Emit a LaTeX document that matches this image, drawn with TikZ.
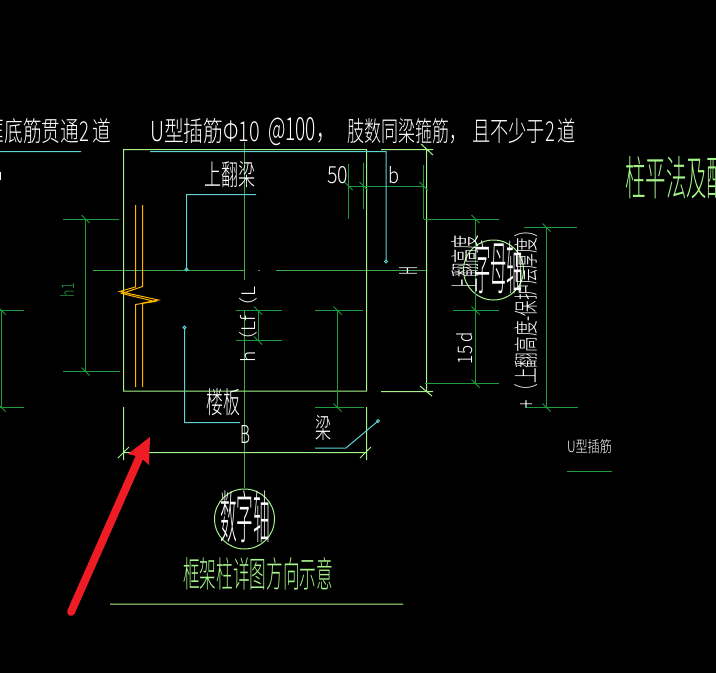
\documentclass[tikz,border=0pt]{standalone}
\usepackage{graphicx}
\usepackage{fontspec}
\setmainfont{Noto Sans CJK SC Light}
\definecolor{framegreen}{HTML}{A6F58A}
\definecolor{dimgreen}{HTML}{1E9A3C}
\definecolor{axisgreen}{HTML}{43A84C}
\definecolor{leadercyan}{HTML}{5FD2D2}
\definecolor{rebarorange}{HTML}{FFB400}
\definecolor{arrowred}{HTML}{EE1C25}
\newcommand{\fitbox}[3]{\resizebox{#1pt}{#2pt}{#3}}
\tikzset{
  label/.style={inner sep=0pt, text=white},
  greenlabel/.style={inner sep=0pt, text=framegreen},
  frameline/.style={draw=framegreen, line width=1pt},
  dimline/.style={draw=dimgreen, line width=1pt},
  axisline/.style={draw=axisgreen, line width=1pt},
  leader/.style={draw=leadercyan, line width=1pt},
  rebar/.style={draw=rebarorange, line width=1pt}
}
\begin{document}
\begin{tikzpicture}[x=1pt, y=-1pt]
  \useasboundingbox (0,0) rectangle (716,673);
  \fill[black] (0,0) rectangle (716,673);
  \coordinate (A) at (123.5,149.5);
  \coordinate (B) at (366.5,149.5);
  \coordinate (C) at (366.5,391);
  \coordinate (D) at (123.5,391);
  % axis lines
  \draw[axisline]
  (93,270) -- (244.5,270) (258,270) -- (260,270) (276,270) -- (426.5,270)
  (244.5,142) -- (244.5,280) (244.5,310) -- (244.5,488);
  % column outline
  \draw[frameline]
  (A) -- (B) -- (C) -- (D) -- cycle
  (381,149.5) -- (433,149.5)
  (426.5,149.5) -- (426.5,391.5)
  (381,391.5) -- (433,391.5)
  (420,386) -- (432,396)
  (421,144) -- (433,155)
  (123.5,407) -- (123.5,460)
  (366.5,407) -- (366.5,460)
  (123.5,452.5) -- (366.5,452.5)
  (118,458) -- (129,447)
  (360,458) -- (371,447)
  (110,604) -- (403,604);
  \draw[frameline] (244.5,519) circle[radius=30];
  \draw[frameline] (493.5,270) circle[radius=30];
  % dimension lines
  \draw[dimline]
  (63,219) -- (119,219) (63,371.5) -- (120,371.5) (85.5,219) -- (85.5,371.5)
  (0,310.5) -- (24,310.5) (0,407.5) -- (24,407.5) (1.5,310.5) -- (1.5,407.5)
  (348.5,164) -- (348.5,218.5) (363.5,163) -- (363.5,209) (423.5,165) -- (423.5,219)
  (348.5,186) -- (423.5,186)
  (423.5,219) -- (499,219) (453,310.5) -- (499,310.5) (425,383.5) -- (499,383.5)
  (475.5,219) -- (475.5,383.5)
  (524,227.5) -- (577,227.5) (525,407.5) -- (578,407.5) (546.5,227.5) -- (546.5,407.5)
  (236,310.5) -- (282,310.5) (236,340.5) -- (282,340.5) (258,310.5) -- (258,340.5)
  (315,310.5) -- (363,310.5) (315,407.5) -- (364,407.5) (337.5,310.5) -- (337.5,407.5)
  (567,471.5) -- (612,471.5);
  \foreach \p in {85.5/219, 85.5/371.5, 1.5/310.5, 1.5/407.5, 348.5/186, 363.5/186, 423.5/186,
    475.5/219, 475.5/310.5, 475.5/383.5, 546.5/227.5, 546.5/407.5,
    258/310.5, 258/340.5, 337.5/310.5, 337.5/407.5}
    \foreach \a/\b in \p \draw[dimline] (\a-4,\b-4) -- (\a+4,\b+4);
  % leaders
  \draw[leader]
  (0,151.5) -- (81,151.5)
  (150,151.5) -- (386,151.5) -- (386,261)
  (256,194.5) -- (186.5,194.5) -- (186.5,269.5)
  (184.5,327.5) -- (184.5,422.5) -- (240,422.5)
  (315,448) -- (346,448) -- (378,421);
  \foreach \p in {186.5/269.5, 386/261.5, 184.5/327.5, 378/421}
    \foreach \a/\b in \p \draw[leader, line width=.8pt] (\a,\b) circle[radius=1.5];
  % rebar
  \draw[rebar]
  (135.5,205) -- (135.5,287) -- (119.5,291.5) -- (158.5,300) -- (142.5,303) -- (142.5,387)
  (142.5,205) -- (142.5,286.5) -- (122,293.5) -- (155,301.5) -- (135.5,304.5) -- (135.5,387);
  \draw[white, line width=1pt] (0.5,172) -- (0.5,180);
  % labels
  \node[label, anchor=east] (title) at (111,131.5) {\fitbox{125}{23}{框底筋贯通2\,道}};
  \node[label, anchor=west] (dowel) at (150,131.5) {\fitbox{110}{23}{U型插筋Φ10}};
  \node[label, anchor=west] (spacing) at (268,131.5) {\fitbox{67}{23}{@100，}};
  \node[label, anchor=west] (legs) at (347,131.5) {\fitbox{119}{23}{肢数同梁箍筋，}};
  \node[label, anchor=west] (least) at (472,131.5) {\fitbox{104}{23}{且不少于2\,道}};
  \node[label] (upbeam) at (230,175) {\fitbox{51}{24}{上翻梁}};
  \node[label] (fifty) at (337.5,175.5) {\fitbox{21}{17}{50}};
  \node[label] (bwidth) at (393.5,175.5) {\fitbox{11}{17}{b}};
  \node[label] (floor) at (223,402.5) {\fitbox{34}{25}{楼板}};
  \node[label] (bsize) at (245,434) {\fitbox{10}{18}{B}};
  \node[label] (beam) at (323,428.5) {\fitbox{16}{23}{梁}};
  \node[label] (numaxis) at (245,517) {\fitbox{50}{48}{数字轴}};
  \node[label] (letteraxis) at (498.5,267.5) {\fitbox{49}{49}{字母轴}};
  \node[label] (dowelnote) at (589.5,446.5) {\fitbox{45}{13}{U型插筋}};
  \node[label, rotate=90] (hlf) at (248,324.5) {\fitbox{75}{16}{h（Lf（L}};
  \node[label, rotate=90] (hsize) at (408,270.5) {\fitbox{9}{18}{H}};
  \node[label, rotate=90] (upheight) at (465,263.5) {\fitbox{57}{25}{上翻高度}};
  \node[label, rotate=90] (fifteen) at (465,348) {\fitbox{32}{16}{15 d}};
  \node[label, rotate=90] (cover) at (526.5,315) {\fitbox{186}{21}{+（上翻高度-保护层厚度）}};
  \node[inner sep=0pt, text=dimgreen, rotate=90] (hone) at (67,290) {\fitbox{14}{14}{h1}};
  \node[greenlabel, anchor=west] (plan) at (625,177.5) {\fitbox{102}{39}{柱平法及配}};
  \node[greenlabel] (caption) at (258,574) {\fitbox{150}{30}{框架柱详图方向示意}};
  % red arrow
  \draw[arrowred, line width=8pt, line cap=round] (71,612) -- (140,456);
  \fill[arrowred] (150,437) -- (128,454) -- (140,457) -- (149,465) -- cycle;
\end{tikzpicture}
\end{document}
